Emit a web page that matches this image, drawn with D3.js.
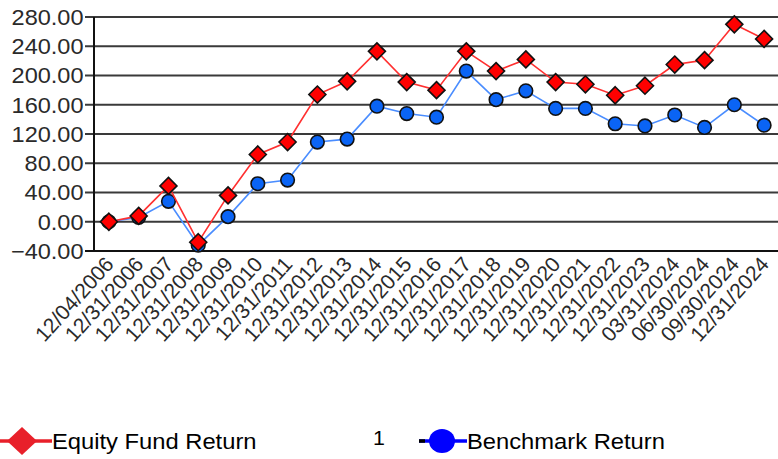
<!DOCTYPE html>
<html>
<head>
<meta charset="utf-8">
<script src="https://cdn.jsdelivr.net/npm/d3@7"></script>
<style>
html,body{margin:0;padding:0;background:#fff;}
svg{display:block;font-family:"Liberation Sans",Arial,sans-serif;}
</style>
</head>
<body>
<svg id="chart" width="778" height="459"></svg>
<script>
const categories = ["12/04/2006","12/31/2006","12/31/2007","12/31/2008","12/31/2009","12/31/2010","12/31/2011","12/31/2012","12/31/2013","12/31/2014","12/31/2015","12/31/2016","12/31/2017","12/31/2018","12/31/2019","12/31/2020","12/31/2021","12/31/2022","12/31/2023","03/31/2024","06/30/2024","09/30/2024","12/31/2024"];
const equityReturn = [0, 8, 49, -28, 36, 92, 109, 174, 192, 233, 191, 180, 233, 206, 222, 191, 188, 173, 186, 215, 221, 270, 250];
const benchmarkReturn = [0, 6, 28, -32, 7, 52, 57, 109, 113, 158, 148, 143, 206, 167, 179, 155, 155, 134, 131, 146, 129, 160, 132];
const yTicks = [-40, 0, 40, 80, 120, 160, 200, 240, 280];
const seriesNames = ["Equity Fund Return", "Benchmark Return"];

const svg = d3.select("#chart");
const plotL = 94, plotR = 779, plotT = 17, plotB = 251;
const x = d3.scaleBand().domain(categories).range([plotL, plotR]);
const y = d3.scaleLinear().domain([-40, 280]).range([plotB, plotT]);
const cx = d => x(d) + x.bandwidth() / 2;
const sx = 1.07;

// gridlines
svg.append("g").selectAll("line").data(yTicks).join("line")
  .attr("x1", 85).attr("x2", 778)
  .attr("y1", d => y(d)).attr("y2", d => y(d))
  .attr("stroke", d => d === -40 ? "#111" : "#3a3a3a").attr("stroke-width", 2);

// y axis line
svg.append("line").attr("x1", plotL).attr("x2", plotL).attr("y1", y(280)).attr("y2", y(-40))
  .attr("stroke", "#111").attr("stroke-width", 2);

// y labels
svg.append("g").selectAll("text").data(yTicks).join("text")
  .attr("transform", d => `translate(83.5,${y(d)}) scale(${sx},1)`)
  .attr("dy", "0.36em")
  .attr("text-anchor", "end")
  .attr("font-size", 22)
  .attr("fill", "#2a2a2a")
  .text(d => d3.format(".2f")(d));

// x labels
svg.append("g").selectAll("text").data(categories).join("text")
  .attr("transform", d => `translate(${cx(d) + 6},${265}) rotate(-48)`)
  .attr("text-anchor", "end")
  .attr("font-size", 21)
  .attr("fill", "#2a2a2a")
  .text(d => d);

const line = d3.line().x((d, i) => cx(categories[i])).y(d => y(d));

// benchmark
svg.append("path").datum(benchmarkReturn).attr("d", line)
  .attr("fill", "none").attr("stroke", "#4a8dff").attr("stroke-width", 1.6);
svg.append("g").selectAll("circle").data(benchmarkReturn).join("circle")
  .attr("cx", (d, i) => cx(categories[i])).attr("cy", d => y(d)).attr("r", 6.8)
  .attr("fill", "#0a64f5").attr("stroke", "#111").attr("stroke-width", 1.6);

// equity
svg.append("path").datum(equityReturn).attr("d", line)
  .attr("fill", "none").attr("stroke", "#ff3030").attr("stroke-width", 1.6);
const diamond = (px, py, r) => `M${px},${py - r}L${px + r},${py}L${px},${py + r}L${px - r},${py}Z`;
svg.append("g").selectAll("path").data(equityReturn).join("path")
  .attr("d", (d, i) => diamond(cx(categories[i]), y(d), 8.5))
  .attr("fill", "#f00").attr("stroke", "#111").attr("stroke-width", 1.6);

// legend
const ly = 441;
const lg = svg.append("g");
lg.append("line").attr("x1", 0).attr("x2", 52).attr("y1", ly).attr("y2", ly)
  .attr("stroke", "#e8202a").attr("stroke-width", 3.5);
lg.append("path").attr("d", `M22,${ly - 14}L37,${ly}L22,${ly + 14}L7,${ly}Z`).attr("fill", "#e8202a");
lg.append("text").attr("transform", `translate(52,${ly}) scale(1.08,1)`).attr("dy", "0.36em")
  .attr("font-size", 22).attr("fill", "#000").text(seriesNames[0]);
lg.append("text").attr("transform", `translate(373,${ly}) scale(${sx},1)`).attr("dy", "0.2em")
  .attr("font-size", 20).attr("fill", "#000").text("1");
lg.append("line").attr("x1", 419).attr("x2", 467).attr("y1", ly).attr("y2", ly)
  .attr("stroke", "#0000ff").attr("stroke-width", 3.5);
lg.append("line").attr("x1", 419).attr("x2", 425).attr("y1", ly).attr("y2", ly)
  .attr("stroke", "#000").attr("stroke-width", 3.5);
lg.append("ellipse").attr("cx", 442).attr("cy", ly).attr("rx", 13).attr("ry", 12).attr("fill", "#0000ff");
lg.append("text").attr("transform", `translate(467,${ly}) scale(1.08,1)`).attr("dy", "0.36em")
  .attr("font-size", 22).attr("fill", "#000").text(seriesNames[1]);
</script>
</body>
</html>
